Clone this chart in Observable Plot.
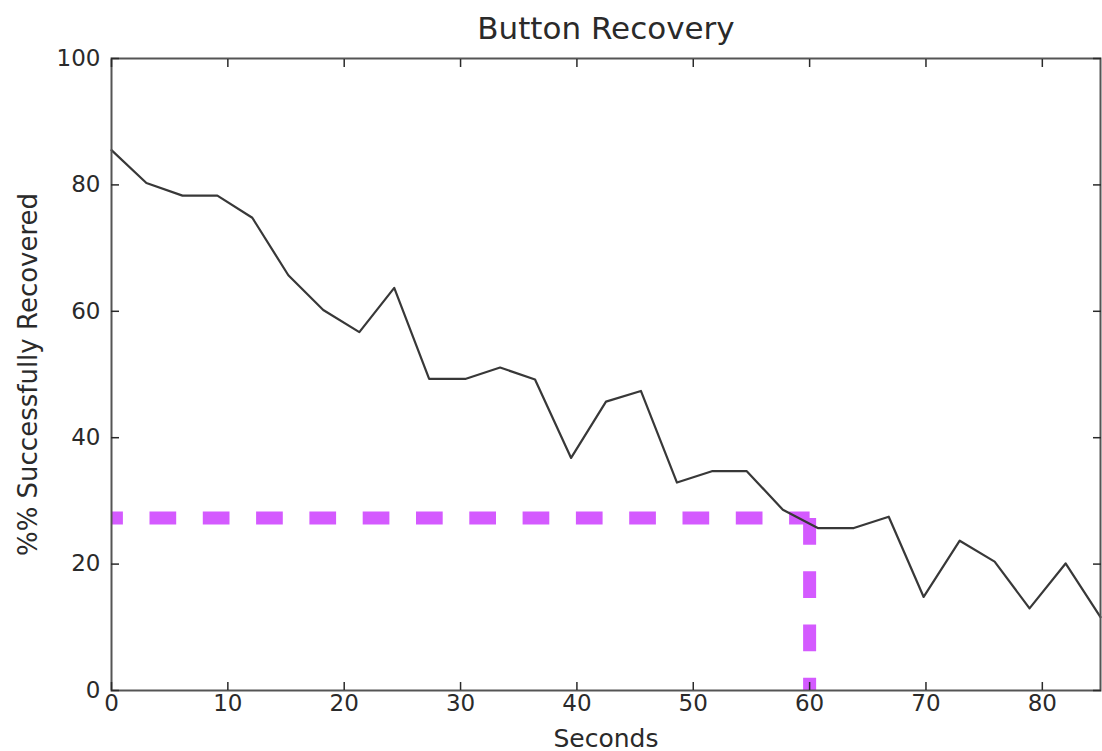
<!DOCTYPE html>
<html>
<head>
<meta charset="utf-8">
<script src="https://cdn.jsdelivr.net/npm/d3@7"></script>
<script src="https://cdn.jsdelivr.net/npm/@observablehq/plot@0.6"></script>
<style>
  html, body { margin: 0; padding: 0; background: #fff; }
</style>
</head>
<body>
<div id="chart"></div>
<script>
// Data
const seconds = [0, 3.0, 6.1, 9.1, 12.1, 15.2, 18.2, 21.3, 24.3, 27.3, 30.4, 33.4, 36.4, 39.5,
  42.5, 45.5, 48.6, 51.6, 54.6, 57.7, 60.7, 63.8, 66.8, 69.8, 72.9, 75.9, 78.9, 82.0, 85.0];
const recovered = [85.5, 80.3, 78.3, 78.3, 74.8, 65.7, 60.2, 56.7, 63.7, 49.3, 49.3, 51.1, 49.2, 36.8,
  45.7, 47.4, 32.9, 34.7, 34.7, 28.6, 25.7, 25.7, 27.5, 14.8, 23.7, 20.4, 13.0, 20.1, 11.6];
const xTicks = [0, 10, 20, 30, 40, 50, 60, 70, 80];
const yTicks = [0, 20, 40, 60, 80, 100];
const thresholdSeconds = 60;
const thresholdPercent = 27.3;
const titleText = "Button Recovery";
const xLabel = "Seconds";
const yLabel = "%% Successfully Recovered";

const series = seconds.map((s, i) => ({s, r: recovered[i]}));
const hGuide = [{x: 0, y: thresholdPercent}, {x: thresholdSeconds, y: thresholdPercent}];
const vGuide = [{x: thresholdSeconds, y: thresholdPercent}, {x: thresholdSeconds, y: 0}];

const magenta = "#d45aff";
const dashStyle = {stroke: magenta, strokeWidth: 13, strokeDasharray: "26.7,26.6", strokeLinecap: "butt", strokeLinejoin: "miter", clip: true};

const chart = Plot.plot({
  width: 1102,
  height: 751,
  marginLeft: 111,
  marginRight: 2,
  marginTop: 58,
  marginBottom: 61,
  style: {fontFamily: "DejaVu Sans", color: "#2a2a2a", background: "white"},
  x: {domain: [0, 85]},
  y: {domain: [0, 100]},
  marks: [
    Plot.line(hGuide, {x: "x", y: "y", ...dashStyle, strokeDashoffset: 15.3}),
    Plot.line(vGuide, {x: "x", y: "y", ...dashStyle}),
    Plot.line(series, {x: "s", y: "r", stroke: "#383838", strokeWidth: 2.2}),
    Plot.frame({stroke: "#555", strokeWidth: 2}),
    Plot.axisX({ticks: xTicks, tickSize: -8, tickPadding: 12, fontSize: 23, label: null, strokeWidth: 1.5}),
    Plot.axisX({anchor: "top", ticks: xTicks, tickSize: -8, tickFormat: () => "", label: null, strokeWidth: 1.5}),
    Plot.axisY({ticks: yTicks, tickSize: -8, tickPadding: 19, fontSize: 23, label: null, strokeWidth: 1.5}),
    Plot.axisY({anchor: "right", ticks: yTicks, tickSize: -8, tickFormat: () => "", label: null, strokeWidth: 1.5}),
    Plot.text([titleText], {frameAnchor: "top", lineAnchor: "bottom", dy: -20, fontSize: 31}),
    Plot.text([xLabel], {frameAnchor: "bottom", lineAnchor: "bottom", dy: 56, fontSize: 25}),
    Plot.text([yLabel], {frameAnchor: "left", textAnchor: "middle", rotate: -90, dx: -83, fontSize: 26})
  ]
});
document.getElementById("chart").append(chart);
</script>
</body>
</html>
